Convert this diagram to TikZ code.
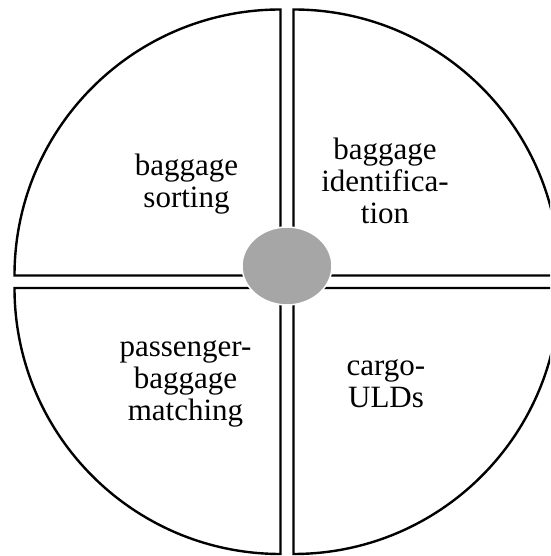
\documentclass[tikz,border=0pt]{standalone}
\usepackage{fontspec}
\setmainfont{Liberation Serif}
\usepackage{tikz}
\usepackage{xcolor}
\usetikzlibrary{shapes.geometric, positioning}
\definecolor{HubGray}{HTML}{A6A6A6}
\tikzset{
    quarter/.style={draw=black, line width=2.4pt, line join=miter},
    label/.style={align=center, inner sep=0pt, font=\fontsize{31}{32}\selectfont}
}

\begin{document}
\begin{tikzpicture}[x=1pt, y=1pt]
    % Page frame (the right rim runs off the page)
    \clip (0,0) rectangle (550,556);

    % Four quarter discs with a small gap between them
    \draw[quarter] (280.5,280.5) -- (280.5,546.5) arc[start angle=90, end angle=180, radius=266] -- cycle;
    \draw[quarter] (293.5,280.5) -- (293.5,546.5) arc[start angle=90, end angle=0, radius=266] -- cycle;
    \draw[quarter] (280.5,268) -- (280.5,2) arc[start angle=270, end angle=180, radius=266] -- cycle;
    \draw[quarter] (293.5,268) -- (293.5,2) arc[start angle=270, end angle=360, radius=266] -- cycle;

    % Hub in the middle
    \node[ellipse, fill=HubGray, draw=white, line width=1.5pt,
          minimum width=90pt, minimum height=78pt, inner sep=0pt] (hub) at (287,290) {};

    % Quadrant labels
    \node[label] (sorting) at (186.5,371.5) {baggage\\sorting};
    \node[label] (ident) at (385,375) {baggage\\identifica-\\tion};
    \node[label] (matching) at (185.5,172.5) {passenger-\\baggage\\matching};
    \node[label] (cargo) at (386,172) {cargo-\\ULDs};
\end{tikzpicture}
\end{document}
